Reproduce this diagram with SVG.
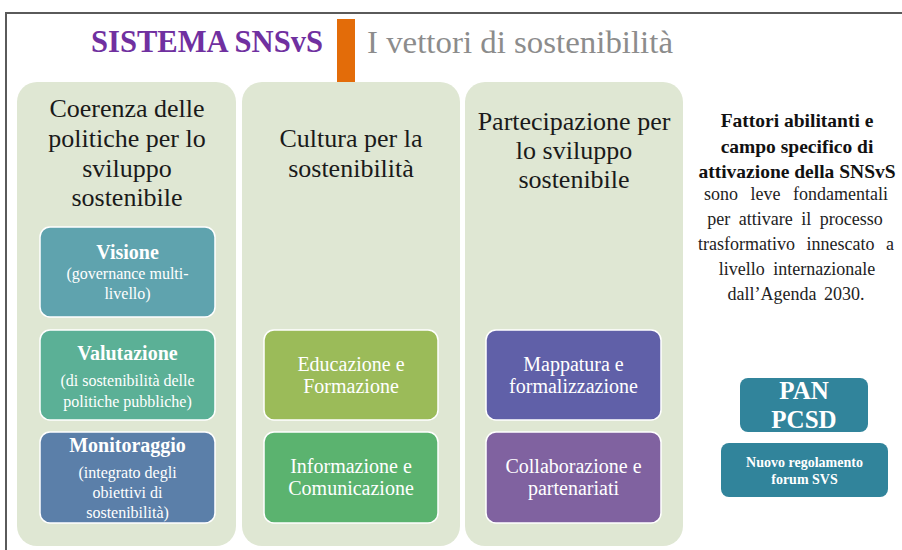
<svg xmlns="http://www.w3.org/2000/svg" width="902" height="550" viewBox="0 0 902 550" font-family="Liberation Serif, DejaVu Serif, serif">
<style>
.col{fill:#DFE7D3}
.box{stroke:#FFFFFF;stroke-width:1.5}
text{text-anchor:middle}
.ct{font-size:26px;fill:#1a1a1a}
.bt{font-size:20px;fill:#FFFFFF}
.bh{font-size:20px;font-weight:bold;fill:#FFFFFF}
.bs{font-size:16px;fill:#FFFFFF}
.rb{font-size:19.5px;font-weight:bold;fill:#111}
.rn{font-size:18px;fill:#222}
</style>
<rect width="902" height="550" fill="#FFFFFF"/>
<path d="M6,550 V13 H902" fill="none" stroke="#5A5A5A" stroke-width="2"/>

<g id="title">
<text x="207" y="52" font-size="31" font-weight="bold" fill="#7030A0" textLength="232" lengthAdjust="spacingAndGlyphs">SISTEMA SNSvS</text>
<rect x="337" y="19" width="18" height="63" fill="#E36C09"/>
<text x="520" y="53" font-size="31" fill="#8C8C8C" textLength="306" lengthAdjust="spacingAndGlyphs">I vettori di sostenibilità</text>
</g>

<g id="col1">
<rect class="col" x="17" y="82" width="219" height="464" rx="20"/>
<text class="ct" x="127" y="117">Coerenza delle</text>
<text class="ct" x="127" y="147">politiche per lo</text>
<text class="ct" x="127" y="177">sviluppo</text>
<text class="ct" x="127" y="206">sostenibile</text>
</g>
<g id="col2">
<rect class="col" x="242" y="82" width="218" height="464" rx="20"/>
<text class="ct" x="351" y="147">Cultura per la</text>
<text class="ct" x="351" y="177">sostenibilità</text>
</g>
<g id="col3">
<rect class="col" x="465" y="82" width="218" height="464" rx="20"/>
<text class="ct" x="574" y="130">Partecipazione per</text>
<text class="ct" x="574" y="159">lo sviluppo</text>
<text class="ct" x="574" y="188">sostenibile</text>
</g>

<g id="visione">
<rect class="box" x="40" y="227" width="175" height="90" rx="10" fill="#5FA3AE"/>
<text class="bh" x="127.5" y="259">Visione</text>
<text class="bs" x="127.5" y="279">(governance multi-</text>
<text class="bs" x="127.5" y="299">livello)</text>
</g>
<g id="valutazione">
<rect class="box" x="40" y="330" width="175" height="90" rx="10" fill="#5BB096"/>
<text class="bh" x="127.5" y="360">Valutazione</text>
<text class="bs" x="127.5" y="386">(di sostenibilità delle</text>
<text class="bs" x="127.5" y="407">politiche pubbliche)</text>
</g>
<g id="monitoraggio">
<rect class="box" x="40" y="432" width="175" height="91" rx="10" fill="#5B7FA9"/>
<text class="bh" x="127.5" y="452">Monitoraggio</text>
<text class="bs" x="127.5" y="478">(integrato degli</text>
<text class="bs" x="127.5" y="498">obiettivi di</text>
<text class="bs" x="127.5" y="518">sostenibilità)</text>
</g>

<g id="educazione">
<rect class="box" x="264" y="330" width="174" height="90" rx="10" fill="#9BBB59"/>
<text class="bt" x="351" y="371">Educazione e</text>
<text class="bt" x="351" y="393">Formazione</text>
</g>
<g id="informazione">
<rect class="box" x="264" y="432" width="174" height="91" rx="10" fill="#5BB36F"/>
<text class="bt" x="351" y="473">Informazione e</text>
<text class="bt" x="351" y="495">Comunicazione</text>
</g>

<g id="mappatura">
<rect class="box" x="486" y="330" width="175" height="90" rx="10" fill="#6060A8"/>
<text class="bt" x="573.5" y="371">Mappatura e</text>
<text class="bt" x="573.5" y="393">formalizzazione</text>
</g>
<g id="collaborazione">
<rect class="box" x="486" y="432" width="175" height="91" rx="10" fill="#8062A0"/>
<text class="bt" x="573.5" y="473">Collaborazione e</text>
<text class="bt" x="573.5" y="495">partenariati</text>
</g>

<g id="fattori">
<text class="rb" x="797" y="127">Fattori abilitanti e</text>
<text class="rb" x="797" y="153">campo specifico di</text>
<text class="rb" x="797" y="178">attivazione della SNSvS</text>
<text class="rn" x="796" y="200" word-spacing="8">sono leve fondamentali</text>
<text class="rn" x="795" y="225" word-spacing="4">per attivare il processo</text>
<text class="rn" x="796" y="250" word-spacing="7">trasformativo innescato a</text>
<text class="rn" x="797" y="275" word-spacing="4">livello internazionale</text>
<text class="rn" x="796" y="300" word-spacing="3">dall’Agenda 2030.</text>
</g>

<g id="pan">
<rect x="740" y="378" width="128" height="54" rx="8" fill="#31849B"/>
<text x="804" y="399" font-size="25" font-weight="bold" fill="#FFFFFF">PAN</text>
<text x="804" y="428" font-size="25" font-weight="bold" fill="#FFFFFF">PCSD</text>
</g>
<g id="forum">
<rect x="721" y="443" width="167" height="54" rx="8" fill="#31849B"/>
<text x="804.5" y="467" font-size="14" font-weight="bold" fill="#FFFFFF">Nuovo regolamento</text>
<text x="804.5" y="484" font-size="14" font-weight="bold" fill="#FFFFFF">forum SVS</text>
</g>
<g id="connectors"/>
</svg>
